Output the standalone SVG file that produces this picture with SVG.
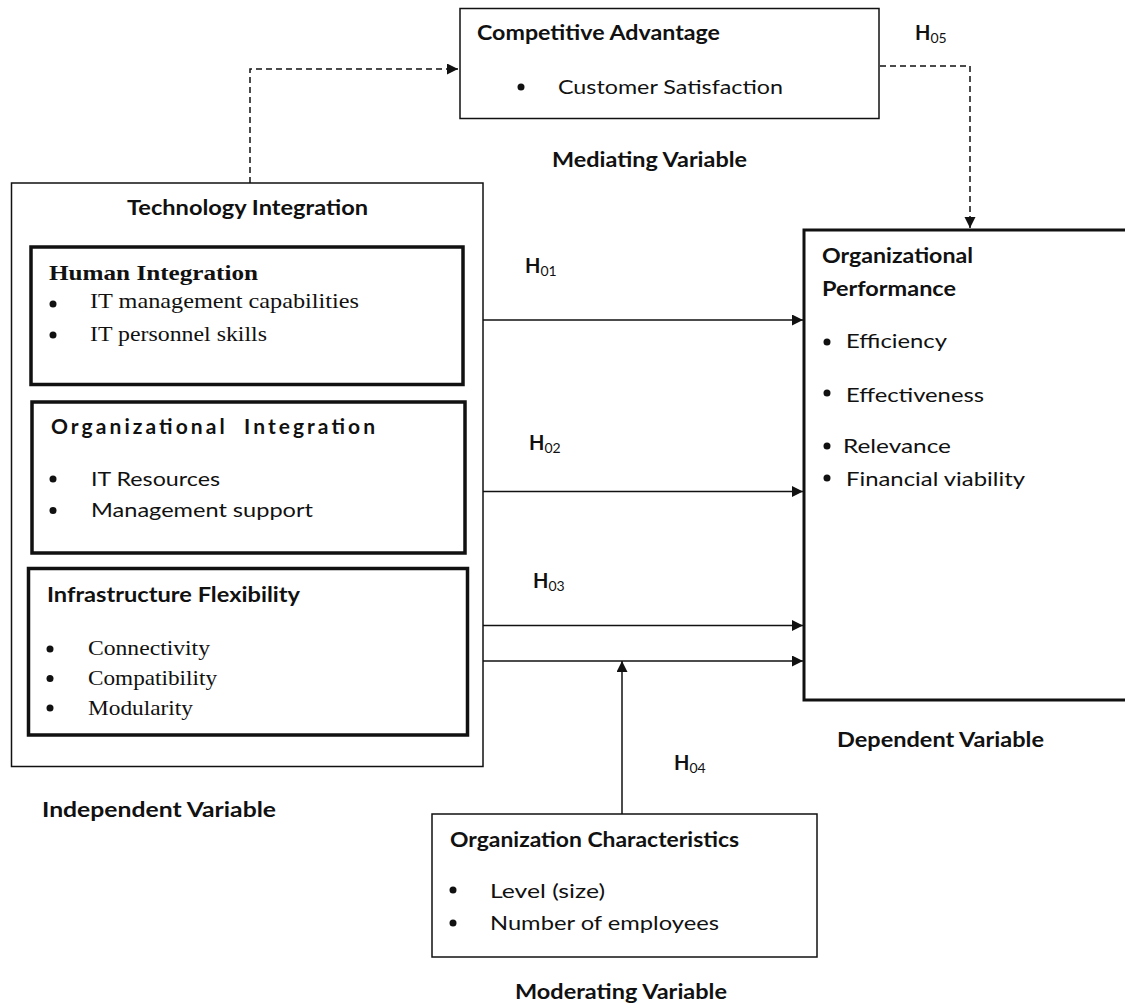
<svg xmlns="http://www.w3.org/2000/svg" width="1125" height="1006" viewBox="0 0 1125 1006">
<style>
.box{fill:#fff;stroke:#111;stroke-width:1.5}
.thick{fill:#fff;stroke:#111;stroke-width:3.5}
.sb{font-family:Lato,"Liberation Sans",sans-serif;font-weight:bold;font-size:21px;fill:#111}
.s{font-family:Lato,"Liberation Sans",sans-serif;font-size:20px;fill:#111}
.rb{font-family:"Liberation Serif","Times New Roman",serif;font-weight:bold;font-size:22px;fill:#111}
.r{font-family:"Liberation Serif","Times New Roman",serif;font-size:21px;fill:#111}
.hs{font-family:Lato,"Liberation Sans",sans-serif;font-weight:bold;font-size:20px;fill:#111}
.sub{font-family:Lato,"Liberation Sans",sans-serif;font-size:14px;fill:#111}
.ln{fill:none;stroke:#111;stroke-width:1.5}
.dash{fill:none;stroke:#111;stroke-width:1.5;stroke-dasharray:6 4}
.dot{fill:#111}
</style>
<defs>
<marker id="ah" markerUnits="userSpaceOnUse" markerWidth="12" markerHeight="12" refX="11" refY="5.5" orient="auto">
<path d="M0,0 L11,5.5 L0,11 z" fill="#111"/>
</marker>
</defs>

<g id="connectors">
<path class="dash" d="M250,183 V69 H458" marker-end="url(#ah)"/>
<path class="dash" d="M880,66 H970 V228" marker-end="url(#ah)"/>
<path class="ln" d="M463,320 H803" marker-end="url(#ah)"/>
<path class="ln" d="M465,491.5 H803" marker-end="url(#ah)"/>
<path class="ln" d="M467,625.5 H803" marker-end="url(#ah)"/>
<path class="ln" d="M483,661 H803" marker-end="url(#ah)"/>
<path class="ln" d="M622,814 V661" marker-end="url(#ah)"/>
</g>

<g id="competitive-advantage">
<rect class="box" x="460" y="8.5" width="419" height="110"/>
<text class="sb" x="477" y="40" textLength="243" lengthAdjust="spacingAndGlyphs">Competitive Advantage</text>
<circle class="dot" cx="521" cy="87" r="3.5"/>
<text class="s" x="558" y="94" textLength="225" lengthAdjust="spacingAndGlyphs">Customer Satisfaction</text>
</g>
<g id="mediating-label">
<text class="sb" x="552" y="167" textLength="195" lengthAdjust="spacingAndGlyphs">Mediating Variable</text>
</g>
<g id="h05">
<text x="915" y="40"><tspan class="hs">H</tspan><tspan class="sub" dy="3">05</tspan></text>
</g>

<g id="technology-integration">
<rect class="box" x="11.5" y="183" width="471.5" height="583.5"/>
<text class="sb" x="127" y="215" textLength="241" lengthAdjust="spacingAndGlyphs">Technology Integration</text>
</g>

<g id="human-integration">
<rect class="thick" x="31" y="247" width="432" height="137.5"/>
<text class="rb" x="49" y="280" textLength="209" lengthAdjust="spacingAndGlyphs">Human Integration</text>
<circle class="dot" cx="53" cy="304" r="3.5"/>
<text class="r" x="90" y="308" textLength="269" lengthAdjust="spacingAndGlyphs">IT management capabilities</text>
<circle class="dot" cx="53" cy="335" r="3.5"/>
<text class="r" x="90" y="341" textLength="177" lengthAdjust="spacingAndGlyphs">IT personnel skills</text>
</g>

<g id="organizational-integration">
<rect class="thick" x="32" y="402" width="433" height="151"/>
<text class="sb" x="51" y="434" textLength="324" lengthAdjust="spacing" xml:space="preserve">Organizational  Integration</text>
<circle class="dot" cx="53" cy="479" r="3.5"/>
<text class="s" x="91" y="486" textLength="129" lengthAdjust="spacingAndGlyphs">IT Resources</text>
<circle class="dot" cx="53" cy="510.5" r="3.5"/>
<text class="s" x="91" y="517" textLength="222" lengthAdjust="spacingAndGlyphs">Management support</text>
</g>

<g id="infrastructure-flexibility">
<rect class="thick" x="28.5" y="568.5" width="439" height="166.5"/>
<text class="sb" x="47" y="602" textLength="253" lengthAdjust="spacingAndGlyphs">Infrastructure Flexibility</text>
<circle class="dot" cx="50" cy="649" r="3.5"/>
<text class="r" x="88" y="655" textLength="122" lengthAdjust="spacingAndGlyphs">Connectivity</text>
<circle class="dot" cx="50" cy="678.5" r="3.5"/>
<text class="r" x="88" y="685" textLength="129" lengthAdjust="spacingAndGlyphs">Compatibility</text>
<circle class="dot" cx="50" cy="708" r="3.5"/>
<text class="r" x="88" y="715" textLength="105" lengthAdjust="spacingAndGlyphs">Modularity</text>
</g>

<g id="independent-label">
<text class="sb" x="42" y="817" textLength="234" lengthAdjust="spacingAndGlyphs">Independent Variable</text>
</g>

<g id="organizational-performance">
<rect x="804" y="230" width="330" height="470" fill="#fff" stroke="#111" stroke-width="3"/>
<text class="sb" x="822" y="263" textLength="151" lengthAdjust="spacingAndGlyphs">Organizational</text>
<text class="sb" x="822" y="296" textLength="134" lengthAdjust="spacingAndGlyphs">Performance</text>
<circle class="dot" cx="827" cy="342" r="3.5"/>
<text class="s" x="846" y="348" textLength="101" lengthAdjust="spacingAndGlyphs">Efficiency</text>
<circle class="dot" cx="827" cy="393" r="3.5"/>
<text class="s" x="846" y="402" textLength="138" lengthAdjust="spacingAndGlyphs">Effectiveness</text>
<circle class="dot" cx="827" cy="446" r="3.5"/>
<text class="s" x="843" y="453" textLength="108" lengthAdjust="spacingAndGlyphs">Relevance</text>
<circle class="dot" cx="827" cy="478" r="3.5"/>
<text class="s" x="846" y="486" textLength="179" lengthAdjust="spacingAndGlyphs">Financial viability</text>
</g>

<g id="dependent-label">
<text class="sb" x="837" y="747" textLength="207" lengthAdjust="spacingAndGlyphs">Dependent Variable</text>
</g>

<g id="h01"><text x="525" y="273"><tspan class="hs">H</tspan><tspan class="sub" dy="3">01</tspan></text></g>
<g id="h02"><text x="529" y="450"><tspan class="hs">H</tspan><tspan class="sub" dy="3">02</tspan></text></g>
<g id="h03"><text x="533" y="588"><tspan class="hs">H</tspan><tspan class="sub" dy="3">03</tspan></text></g>
<g id="h04"><text x="674" y="770"><tspan class="hs">H</tspan><tspan class="sub" dy="3">04</tspan></text></g>

<g id="organization-characteristics">
<rect class="box" x="432" y="814" width="385" height="143"/>
<text class="sb" x="450" y="847" textLength="289" lengthAdjust="spacingAndGlyphs">Organization Characteristics</text>
<circle class="dot" cx="453" cy="890" r="3.5"/>
<text class="s" x="490" y="898" textLength="115" lengthAdjust="spacingAndGlyphs">Level (size)</text>
<circle class="dot" cx="453" cy="923" r="3.5"/>
<text class="s" x="490" y="930" textLength="229" lengthAdjust="spacingAndGlyphs">Number of employees</text>
</g>

<g id="moderating-label">
<text class="sb" x="515" y="999" textLength="212" lengthAdjust="spacingAndGlyphs">Moderating Variable</text>
</g>
</svg>
